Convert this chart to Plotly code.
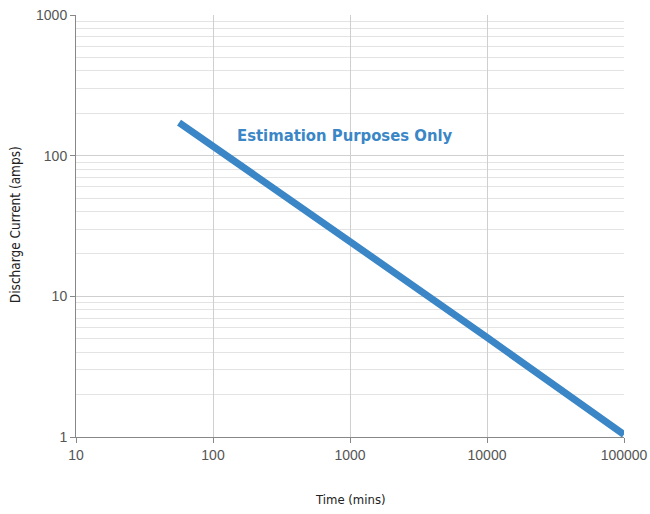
import plotly.graph_objects as go

time_mins = [56.5, 100, 1000, 10000, 100000]
current_amps = [172, 116, 24.5, 5.1, 1.04]

x_tick_vals = [10, 100, 1000, 10000, 100000]
x_tick_text = ["10", "100", "1000", "10000", "100000"]
y_tick_vals = [1, 10, 100, 1000]
y_tick_text = ["1", "10", "100", "1000"]

annotation_text = "Estimation Purposes Only"
x_title = "Time (mins)"
y_title = "Discharge Current (amps)"

blue = "#3a86c6"
cond = "DejaVu Sans Condensed"

fig = go.Figure()
fig.add_trace(go.Scatter(
    x=time_mins, y=current_amps, mode="lines",
    line=dict(color=blue, width=7), showlegend=False, hoverinfo="skip"))

fig.add_annotation(x=2.96, y=2.14, xref="x", yref="y", text="<b>" + annotation_text + "</b>",
                   showarrow=False, font=dict(family=cond, size=16.5, color=blue))

# axis titles placed as paper annotations
fig.add_annotation(x=0.5, y=-0.149, xref="paper", yref="paper", text=x_title,
                   showarrow=False, xanchor="center", yanchor="middle",
                   font=dict(family=cond, size=13, color="#222222"))
fig.add_annotation(x=-0.1113, y=0.502, xref="paper", yref="paper", text=y_title,
                   showarrow=False, xanchor="center", yanchor="middle", textangle=-90,
                   font=dict(family=cond, size=13.5, color="#222222"))

fig.update_xaxes(
    type="log", range=[1, 5], tickvals=x_tick_vals, ticktext=x_tick_text,
    showgrid=True, gridcolor="#cfcfcf", gridwidth=1,
    showline=True, linecolor="#888888", linewidth=1,
    ticks="outside", ticklen=5, tickcolor="#888888",
    tickfont=dict(family="Liberation Sans, Arial, sans-serif", size=14, color="#555555"),
    zeroline=False, mirror=False, automargin=False)

fig.update_yaxes(
    type="log", range=[0, 3], tickvals=y_tick_vals, ticktext=y_tick_text,
    showgrid=True, gridcolor="#cfcfcf", gridwidth=1,
    minor=dict(showgrid=True, gridcolor="#e3e3e3", gridwidth=1,
               tickvals=[m * 10 ** e for e in range(0, 3) for m in range(2, 10)]),
    showline=True, linecolor="#888888", linewidth=1,
    ticks="outside", ticklen=5, tickcolor="#888888",
    tickfont=dict(family="Liberation Sans, Arial, sans-serif", size=14, color="#555555"),
    zeroline=False, automargin=False)

fig.update_layout(
    width=650, height=514,
    margin=dict(l=76, r=26, t=15, b=77),
    plot_bgcolor="white", paper_bgcolor="white")

fig.write_html("out.html", config={"displayModeBar": False},
               post_script="document.body.style.margin='0';document.body.style.overflow='hidden';")
